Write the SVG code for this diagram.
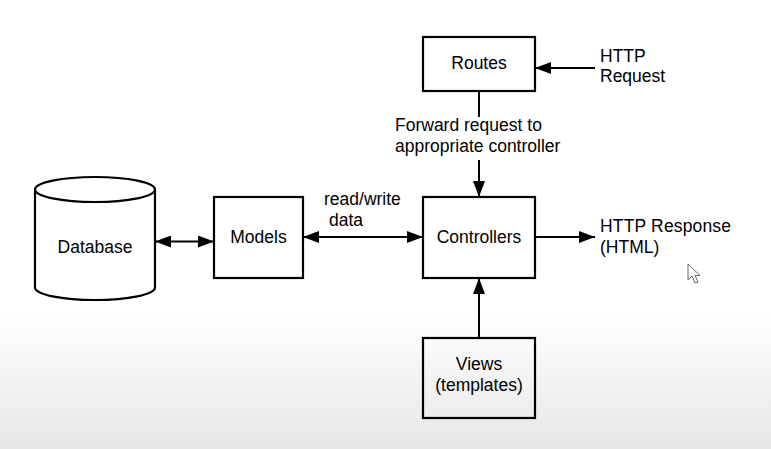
<svg xmlns="http://www.w3.org/2000/svg" width="771" height="449" viewBox="0 0 771 449">
  <defs>
    <linearGradient id="bg" x1="0" y1="0" x2="0" y2="449" gradientUnits="userSpaceOnUse">
      <stop offset="0" stop-color="#ffffff"/>
      <stop offset="0.7" stop-color="#ffffff"/>
      <stop offset="1" stop-color="#e6e6e6"/>
    </linearGradient>
    <marker id="ah" markerUnits="userSpaceOnUse" markerWidth="16" markerHeight="12" refX="16" refY="6" orient="auto-start-reverse" viewBox="0 0 16 12">
      <path d="M0,0 L16,6 L0,12 z" fill="#000"/>
    </marker>
    <style>
      .box { fill: none; stroke: #000; stroke-width: 2.2; }
      .lbl { font-family: "Liberation Sans", Arial, sans-serif; font-size: 17.5px; fill: #000; }
      .c { text-anchor: middle; }
      .conn { stroke: #000; stroke-width: 2; fill: none; }
    </style>
  </defs>
  <rect x="0" y="0" width="771" height="449" fill="url(#bg)"/>

  <g id="database">
    <path class="box" d="M35,189.5 L35,287.5 A60,12.5 0 0 0 155,287.5 L155,189.5"/>
    <ellipse class="box" cx="95" cy="189.5" rx="60" ry="12.5"/>
    <text class="lbl c" x="95" y="253">Database</text>
  </g>

  <g id="models">
    <rect class="box" x="214" y="197" width="89" height="81"/>
    <text class="lbl c" x="258.5" y="243">Models</text>
  </g>

  <g id="controllers">
    <rect class="box" x="423" y="197" width="112" height="81"/>
    <text class="lbl c" x="479" y="243">Controllers</text>
  </g>

  <g id="routes">
    <rect class="box" x="423" y="37" width="112" height="54"/>
    <text class="lbl c" x="479" y="69">Routes</text>
  </g>

  <g id="views">
    <rect class="box" x="423" y="338" width="112" height="80"/>
    <text class="lbl c" x="479" y="370">Views</text>
    <text class="lbl c" x="479" y="391">(templates)</text>
  </g>

  <g id="http-request">
    <text class="lbl" x="600" y="62">HTTP</text>
    <text class="lbl" x="600" y="82">Request</text>
  </g>

  <g id="http-response">
    <text class="lbl" x="600" y="232" textLength="131" lengthAdjust="spacing">HTTP Response</text>
    <text class="lbl" x="600" y="253">(HTML)</text>
  </g>

  <g id="connectors">
    <line class="conn" x1="155" y1="241.5" x2="214" y2="241.5" marker-start="url(#ah)" marker-end="url(#ah)"/>
    <line class="conn" x1="303" y1="237" x2="423" y2="237" marker-start="url(#ah)" marker-end="url(#ah)"/>
    <line class="conn" x1="595" y1="68" x2="535" y2="68" marker-end="url(#ah)"/>
    <line class="conn" x1="479" y1="91" x2="479" y2="117"/>
    <line class="conn" x1="479" y1="160" x2="479" y2="197" marker-end="url(#ah)"/>
    <line class="conn" x1="535" y1="237" x2="595" y2="237" marker-end="url(#ah)"/>
    <line class="conn" x1="479" y1="338" x2="479" y2="278" marker-end="url(#ah)"/>
    <text class="lbl" x="395" y="131">Forward request to</text>
    <text class="lbl" x="395" y="152">appropriate controller</text>
    <text class="lbl" x="324" y="205">read/write</text>
    <text class="lbl" x="329" y="226">data</text>
  </g>

  <polygon points="688,264 688,280 692,276 695,283 698,282 695,275.5 700,275.5" fill="#fff" stroke="#666" stroke-width="1"/>
</svg>
